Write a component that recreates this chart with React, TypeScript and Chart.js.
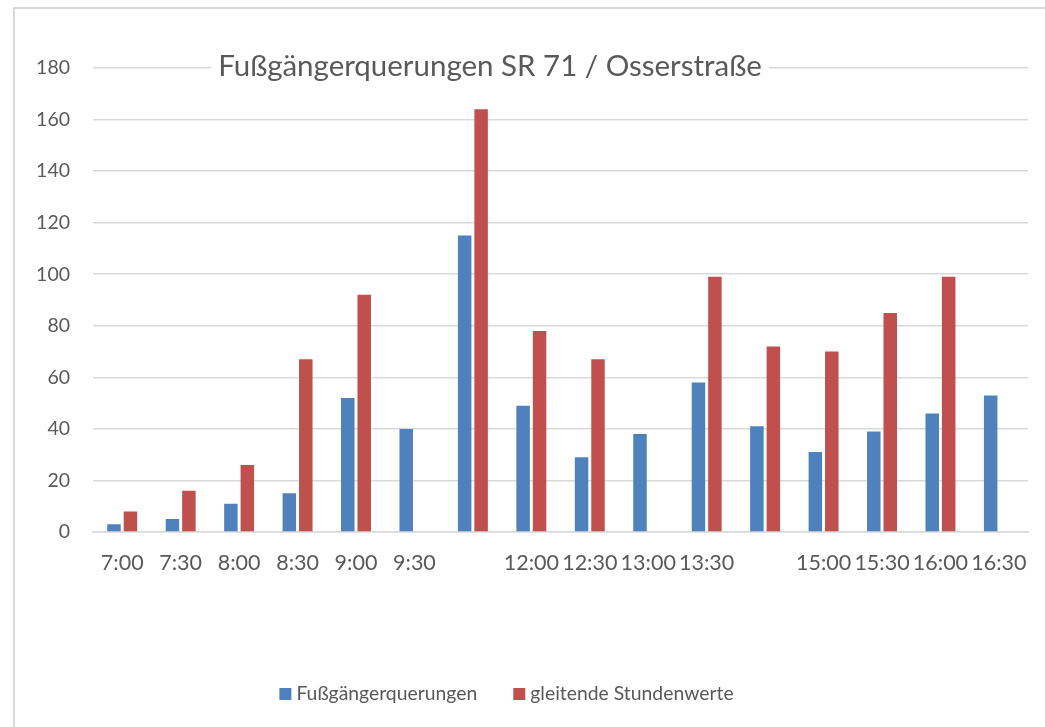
import React, { useEffect, useRef } from "react";
import { Chart, registerables } from "chart.js";

Chart.register(...registerables);

const categories = ["7:00", "7:30", "8:00", "8:30", "9:00", "9:30", "", "12:00", "12:30", "13:00", "13:30", "", "15:00", "15:30", "16:00", "16:30"];
const crossings = [3, 5, 11, 15, 52, 40, 115, 49, 29, 38, 58, 41, 31, 39, 46, 53];
const hourlyValues = [8, 16, 26, 67, 92, null, 164, 78, 67, null, 99, 72, 70, 85, 99, null];
const seriesNames = ["Fußgängerquerungen", "gleitende Stundenwerte"];
const titleText = "Fußgängerquerungen SR 71 / Osserstraße";
const yTicks = { min: 0, max: 180, step: 20 };

const FONT = "Lato, 'Open Sans', sans-serif";
const TEXT = "#595959";
const GRID = "#d9d9d9";
const BLUE = "#4f81bd";
const RED = "#c0504d";

function fitFont(ctx: CanvasRenderingContext2D, text: string, width: number) {
  ctx.font = `100px ${FONT}`;
  return (100 * width) / ctx.measureText(text).width;
}

const decorPlugin = {
  id: "decor",
  beforeDraw(chart: any) {
    const ctx = chart.ctx;
    ctx.save();
    ctx.fillStyle = "#ffffff";
    ctx.fillRect(0, 0, chart.width, chart.height);
    ctx.strokeStyle = GRID;
    ctx.lineWidth = 2;
    ctx.strokeRect(14, 8, chart.width + 20, chart.height + 20);
    ctx.restore();
  },
  afterDraw(chart: any) {
    const ctx = chart.ctx;
    ctx.save();
    // title
    const size = fitFont(ctx, titleText, 544);
    ctx.font = `${size}px ${FONT}`;
    const tw = ctx.measureText(titleText).width;
    const cx = 490;
    ctx.fillStyle = "#ffffff";
    ctx.fillRect(cx - tw / 2 - 7, 50, tw + 14, 36);
    ctx.fillStyle = TEXT;
    ctx.textAlign = "center";
    ctx.textBaseline = "alphabetic";
    ctx.fillText(titleText, cx, 76);

    // legend
    const ls = fitFont(ctx, seriesNames[0], 181);
    ctx.font = `${ls}px ${FONT}`;
    const box = 12;
    const gap = 5;
    const between = 36;
    const w1 = ctx.measureText(seriesNames[0]).width;
    const w2 = ctx.measureText(seriesNames[1]).width;
    const total = box + gap + w1 + between + box + gap + w2;
    let x = 506.5 - total / 2;
    const yc = 694;
    ctx.textAlign = "left";
    ctx.textBaseline = "middle";
    ctx.fillStyle = BLUE;
    ctx.fillRect(x, yc - box / 2, box, box);
    ctx.fillStyle = TEXT;
    ctx.fillText(seriesNames[0], x + box + gap, yc);
    x += box + gap + w1 + between;
    ctx.fillStyle = RED;
    ctx.fillRect(x, yc - box / 2, box, box);
    ctx.fillStyle = TEXT;
    ctx.fillText(seriesNames[1], x + box + gap, yc);
    ctx.restore();
  },
};

export default function App() {
  const ref = useRef<HTMLCanvasElement | null>(null);
  useEffect(() => {
    if (!ref.current) return;
    const chart = new Chart(ref.current, {
      type: "bar",
      data: {
        labels: categories,
        datasets: [
          {
            label: seriesNames[0],
            data: crossings,
            backgroundColor: BLUE,
            categoryPercentage: 0.563,
            barPercentage: 0.82,
          },
          {
            label: seriesNames[1],
            data: hourlyValues as any,
            backgroundColor: RED,
            categoryPercentage: 0.563,
            barPercentage: 0.82,
          },
        ],
      },
      options: {
        animation: false,
        responsive: false,
        maintainAspectRatio: false,
        layout: { padding: { left: 0, right: 15, top: 68, bottom: 155 } },
        plugins: {
          legend: { display: false },
          title: { display: false },
          tooltip: { enabled: false },
        },
        scales: {
          x: {
            afterFit: (s: any) => {
              s.height = 40;
            },
            grid: { display: false, drawTicks: false },
            border: { color: GRID, width: 1.5 },
            ticks: {
              color: TEXT,
              font: { family: FONT, size: 21.5 },
              padding: 18,
              maxRotation: 0,
              autoSkip: false,
            },
          },
          y: {
            min: yTicks.min,
            max: yTicks.max,
            afterFit: (s: any) => {
              s.width = 93;
            },
            grid: { color: GRID, lineWidth: 1.5, drawTicks: false },
            border: { display: false },
            ticks: {
              stepSize: yTicks.step,
              color: TEXT,
              font: { family: FONT, size: 19.5 },
              padding: 23,
            },
          },
        },
      },
      plugins: [decorPlugin],
    });
    return () => chart.destroy();
  }, []);
  return (
    <div style={{ position: "absolute", left: 0, top: 0, width: 1045, height: 727 }}>
      <canvas ref={ref} width={1045} height={727} style={{ width: 1045, height: 727 }} />
    </div>
  );
}
